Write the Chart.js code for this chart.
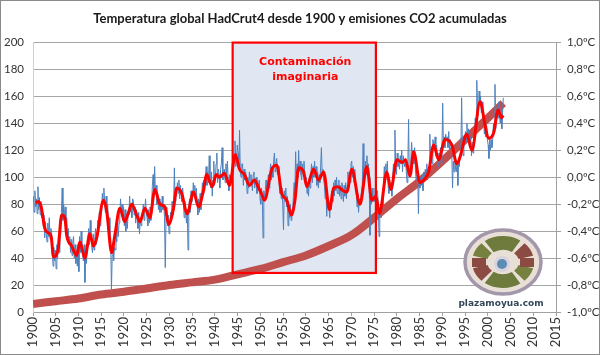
<!DOCTYPE html>
<html><head><meta charset="utf-8">
<script src="https://cdn.jsdelivr.net/npm/chart.js@4.4.0/dist/chart.umd.min.js"></script>
<style>html,body{margin:0;padding:0;background:#fff;}#wrap{width:600px;height:355px;}</style>
</head><body><div id="wrap"><canvas id="c" width="600" height="355"></canvas></div>
<script>
const chartTitle = 'Temperatura global HadCrut4 desde 1900 y emisiones CO2 acumuladas';
const xTickYears = [1900,1905,1910,1915,1920,1925,1930,1935,1940,1945,1950,1955,1960,1965,1970,1975,1980,1985,1990,1995,2000,2005,2010,2015];
const leftTicks = [0,20,40,60,80,100,120,140,160,180,200];
const rightTickValues = [-1,-0.8,-0.6,-0.4,-0.2,0,0.2,0.4,0.6,0.8,1];
const rightTickLabels = ['-1,0ºC','-0,8ºC','-0,6ºC','-0,4ºC','-0,2ºC','0,0ºC','0,2ºC','0,4ºC','0,6ºC','0,8ºC','1,0ºC'];
const boxLabel = ['Contaminación','imaginaria'];
const boxYears = [1943.9, 1975.4];
const boxLeftValues = [29, 200];
const logoText = 'plazamoyua.com';

// Suavizado (rojo), anomalía ºC
const smoothYears = [
1900.6,1901.2,1901.8,1902.6,1903.3,1904.0,1904.5,1905.5,1906.3,1907.0,
1907.4,1908.5,1909.6,1910.3,1911.4,1912.5,1913.3,1914.0,1915.5,1916.2,
1917.3,1918.0,1919.1,1920.2,1921.0,1921.7,1922.8,1923.5,1924.6,1925.7,
1926.8,1927.9,1929.0,1929.8,1930.9,1931.6,1932.7,1933.9,1935.3,1936.4,
1937.4,1938.2,1939.4,1940.3,1941.0,1942.1,1943.2,1944.5,1945.4,1946.5,
1947.6,1948.7,1949.5,1950.2,1950.9,1952.5,1953.6,1954.7,1955.8,1956.8,
1957.6,1958.4,1959.5,1960.2,1961.7,1962.8,1963.9,1965.2,1966.1,1967.0,
1968.2,1969.0,1970.1,1971.9,1973.4,1974.5,1975.4,1976.2,1977.8,1978.7,
1980.0,1981.2,1981.9,1982.9,1983.7,1985.1,1985.9,1987.0,1988.1,1989.2,
1990.6,1992.1,1993.2,1993.9,1995.4,1996.5,1998.3,1999.4,2000.1,2001.2,
2002.3,2003.0,2003.4];
const smoothTemp = [
-0.19,-0.18,-0.22,-0.38,-0.41,-0.44,-0.59,-0.54,-0.28,-0.30,
-0.43,-0.51,-0.58,-0.48,-0.60,-0.42,-0.51,-0.45,-0.17,-0.25,
-0.56,-0.43,-0.23,-0.33,-0.26,-0.20,-0.28,-0.33,-0.23,-0.30,
-0.09,-0.20,-0.22,-0.35,-0.23,-0.08,-0.12,-0.27,-0.11,-0.22,
-0.11,0.02,-0.07,0.02,0.00,0.03,-0.06,0.17,0.06,0.02,
-0.06,-0.02,-0.07,-0.12,-0.17,0.06,0.09,-0.12,-0.17,-0.28,
-0.17,0.07,0.04,-0.07,0.06,-0.02,0.04,-0.24,-0.08,-0.07,
-0.10,-0.11,0.06,-0.20,0.08,-0.17,-0.14,-0.27,0.04,-0.09,
0.13,0.11,0.13,0.01,0.19,-0.04,-0.02,0.04,0.24,0.13,
0.28,0.24,0.10,0.15,0.32,0.20,0.56,0.39,0.29,0.32,
0.50,0.44,0.46];

// HadCrut4 (azul), seis valores por año desde 1900, anomalía ºC
const hadStartYear = 1900;
const hadPerYear = 6;
const hadTemp = [
-0.14,-0.26,-0.10,-0.22,-0.16,-0.27, -0.07,-0.24,-0.15,-0.28,-0.18,-0.30,
-0.24,-0.36,-0.28,-0.45,-0.33,-0.42, -0.48,-0.34,-0.44,-0.30,-0.46,-0.38,
-0.40,-0.56,-0.66,-0.52,-0.62,-0.54, -0.68,-0.50,-0.60,-0.44,-0.56,-0.40,
-0.42,-0.26,-0.08,-0.32,-0.20,-0.30, -0.22,-0.36,-0.30,-0.44,-0.38,-0.50,
-0.44,-0.56,-0.46,-0.58,-0.48,-0.44, -0.60,-0.50,-0.64,-0.54,-0.66,-0.50,
-0.70,-0.44,-0.56,-0.40,-0.52,-0.58, -0.62,-0.50,-0.78,-0.54,-0.64,-0.52,
-0.46,-0.38,-0.50,-0.32,-0.44,-0.52, -0.56,-0.42,-0.54,-0.46,-0.38,-0.50,
-0.44,-0.32,-0.40,-0.26,-0.36,-0.28, -0.24,-0.12,-0.20,-0.08,-0.18,-0.26,
-0.14,-0.28,-0.20,-0.36,-0.30,-0.42, -0.46,-0.84,-0.58,-0.48,-0.62,-0.52,
-0.54,-0.40,-0.48,-0.36,-0.44,-0.34, -0.30,-0.16,-0.26,-0.20,-0.32,-0.22,
-0.36,-0.24,-0.40,-0.30,-0.38,-0.26, -0.28,-0.14,-0.26,-0.20,-0.30,-0.16,
-0.18,-0.28,-0.22,-0.34,-0.24,-0.30, -0.38,-0.26,-0.42,-0.30,-0.36,-0.28,
-0.28,-0.20,-0.32,-0.24,-0.16,-0.26, -0.30,-0.36,-0.24,-0.34,-0.22,-0.32,
-0.20,-0.06,0.02,-0.10,0.08,-0.12, -0.06,-0.20,-0.12,-0.24,-0.16,-0.26,
-0.18,-0.26,-0.14,-0.24,-0.20,-0.30, -0.67,-0.30,-0.22,-0.36,-0.28,-0.42,
-0.36,-0.26,-0.32,-0.18,-0.28,-0.22, 0.07,-0.18,-0.08,-0.14,-0.04,-0.12,
-0.02,-0.16,-0.06,-0.12,-0.18,-0.08, -0.20,-0.30,-0.18,-0.26,-0.34,-0.24,
-0.54,-0.22,-0.16,-0.26,-0.10,-0.18, -0.16,-0.04,-0.14,-0.06,-0.18,-0.08,
-0.20,-0.28,-0.16,-0.26,-0.12,-0.24, -0.14,-0.04,-0.12,-0.02,-0.10,0.00,
0.08,-0.06,0.04,-0.04,0.16,0.00, -0.08,0.04,-0.14,-0.02,0.12,-0.06,
-0.02,0.10,0.18,-0.04,0.06,0.02, -0.08,0.06,0.10,0.22,-0.02,0.04,
0.06,-0.04,0.10,0.00,0.12,-0.02, -0.10,0.02,-0.06,0.00,-0.04,0.08,
0.04,0.14,0.27,0.08,0.12,0.24, 0.18,0.08,0.35,0.04,0.00,0.10,
0.10,-0.06,0.06,-0.02,0.04,0.00, -0.12,0.00,-0.08,0.04,-0.06,0.02,
-0.04,-0.10,0.02,0.04,-0.08,-0.02, 0.00,-0.12,-0.04,-0.10,-0.02,-0.16,
-0.20,-0.08,-0.14,-0.45,-0.10,-0.16, -0.10,-0.02,-0.14,-0.06,0.02,-0.08,
0.02,0.10,-0.02,0.08,0.00,0.12, 0.18,0.04,0.10,0.14,0.02,0.08,
-0.02,-0.12,-0.04,-0.16,-0.08,-0.20, -0.39,-0.10,-0.18,-0.08,-0.22,-0.14,
-0.36,-0.22,-0.30,-0.20,-0.32,-0.24, -0.28,-0.14,-0.04,-0.12,0.19,-0.06,
0.10,0.00,0.20,0.04,0.12,0.02, -0.02,0.10,0.02,0.12,0.00,-0.04,
0.00,-0.12,-0.04,-0.14,-0.02,-0.08, 0.02,0.10,-0.04,0.08,0.00,0.12,
0.00,0.08,-0.06,0.04,-0.08,0.02, -0.04,0.08,0.22,0.02,0.06,-0.02,
-0.06,-0.16,-0.08,-0.29,-0.18,-0.24, -0.22,-0.30,-0.16,-0.24,-0.10,-0.18,
-0.04,-0.14,-0.02,-0.10,0.00,-0.12, -0.12,-0.02,-0.14,-0.06,-0.16,-0.04,
-0.08,-0.18,-0.06,-0.14,-0.04,-0.16, -0.06,0.04,-0.08,0.02,-0.04,0.10,
0.12,0.00,0.08,-0.04,0.06,-0.02, -0.10,-0.22,-0.12,-0.26,-0.16,-0.20,
-0.20,-0.10,-0.06,0.25,-0.02,0.00, 0.12,0.02,0.16,0.04,0.10,0.00,
-0.43,-0.12,-0.20,-0.08,-0.18,-0.14, -0.18,-0.08,-0.22,-0.12,-0.10,-0.20,
-0.44,-0.26,-0.20,-0.30,-0.18,-0.24, -0.04,0.08,-0.02,0.10,0.00,0.12,
-0.06,-0.12,-0.02,-0.10,-0.04,-0.14, 0.00,0.10,0.04,0.35,0.08,0.02,
0.18,0.08,0.14,0.06,0.16,0.10, 0.20,0.04,0.16,0.10,0.08,0.14,
0.04,-0.04,0.08,0.43,0.00,0.06, 0.12,0.26,0.16,0.20,0.10,0.22,
0.06,-0.02,0.10,0.04,-0.27,0.00, -0.08,0.00,-0.06,0.02,-0.10,0.04,
-0.02,0.06,0.02,0.10,-0.02,0.08, 0.08,0.32,0.14,0.18,0.10,0.28,
0.26,0.20,0.30,0.16,0.24,0.14, 0.08,0.18,0.12,0.22,0.10,0.20,
0.55,0.24,0.30,0.22,0.32,0.28, 0.30,0.22,0.34,0.20,0.28,0.22,
0.18,-0.08,0.12,0.04,0.16,0.06, 0.04,0.12,-0.06,0.14,0.08,0.18,
0.20,0.59,0.22,0.16,0.30,0.24, 0.34,0.26,0.40,0.28,0.36,0.24,
0.22,0.30,0.16,0.26,0.18,0.28, 0.32,0.44,0.36,0.72,0.50,0.46,
0.64,0.54,0.60,0.48,0.56,0.44, 0.42,0.32,0.40,0.30,0.38,0.28,
0.24,0.14,0.30,0.20,0.28,0.22, 0.28,0.40,0.34,0.69,0.36,0.42,
0.52,0.44,0.56,0.46,0.40,0.50, 0.36,0.48,0.59];

// Emisiones CO2 acumuladas (eje izquierdo)
const co2Years = [1900,1905,1910,1915,1920,1925,1930,1935,1940,1945,1950,1955,1960,1965,1970,1975,1980,1985,1990,1995,2000,2003.4];
const co2Values = [6,8,10,13,15,17.5,20,22,24,28,32,37,42,49,57,70,84,97,112,128,144,155];

const boxPlugin = {
  id: 'box',
  beforeDatasetsDraw(chart) {
    const {ctx, scales} = chart;
    const x0 = scales.x.getPixelForValue(boxYears[0]), x1 = scales.x.getPixelForValue(boxYears[1]);
    const y0 = scales.y.getPixelForValue(boxLeftValues[1]), y1 = scales.y.getPixelForValue(boxLeftValues[0]);
    ctx.save();
    ctx.fillStyle = '#e0e7f2';
    ctx.fillRect(x0, y0, x1 - x0, y1 - y0);
    ctx.restore();
  },
  afterDatasetsDraw(chart) {
    const {ctx, scales} = chart;
    const x0 = scales.x.getPixelForValue(boxYears[0]), x1 = scales.x.getPixelForValue(boxYears[1]);
    const y0 = scales.y.getPixelForValue(boxLeftValues[1]), y1 = scales.y.getPixelForValue(boxLeftValues[0]);
    ctx.save();
    ctx.strokeStyle = '#ff0000';
    ctx.lineWidth = 2.2;
    ctx.strokeRect(x0, y0, x1 - x0, y1 - y0);
    ctx.fillStyle = '#ff0000';
    ctx.font = 'bold 11px "DejaVu Sans"';
    ctx.textAlign = 'center';
    ctx.textBaseline = 'middle';
    const cx = (x0 + x1) / 2 + 1;
    ctx.fillText(boxLabel[0], cx, y0 + 20);
    ctx.fillText(boxLabel[1], cx, y0 + 35);
    ctx.restore();
  }
};

const logoPlugin = {
  id: 'logo',
  afterDatasetsDraw(chart) {
    const c = chart.ctx;
    const cx = 503, cy = 262;
    const d = Math.PI / 180;
    c.save();
    c.beginPath(); c.ellipse(cx, cy, 38, 32, 0, 0, Math.PI * 2);
    c.fillStyle = '#e8dfd6'; c.fill();
    c.lineWidth = 3.5; c.strokeStyle = '#a397ab'; c.stroke();
    function sector(a0, a1, col) {
      c.beginPath();
      c.ellipse(cx, cy, 31, 26, 0, a0 * d, a1 * d);
      c.ellipse(cx, cy, 16, 12, 0, a1 * d, a0 * d, true);
      c.closePath(); c.fillStyle = col; c.fill();
    }
    sector(-126, -56, '#6e7b3d');
    sector(56, 126, '#6e7b3d');
    sector(-166, -134, '#77813f');
    sector(14, 46, '#77813f');
    sector(-46, -14, '#8b4b43');
    sector(134, 166, '#8b4b43');
    c.fillStyle = '#8b4b43';
    c.fillRect(cx - 31, cy - 4, 14, 9);
    c.fillRect(cx + 17, cy - 4, 14, 9);
    c.beginPath(); c.arc(cx - 1, cy + 2, 8, 0, 2 * Math.PI); c.fillStyle = '#d9d3dd'; c.fill();
    c.beginPath(); c.arc(cx - 1, cy + 2, 5, 0, 2 * Math.PI); c.fillStyle = '#5a8cb4'; c.fill();
    c.fillStyle = '#34475a';
    c.font = 'bold 9px "DejaVu Sans"';
    c.textAlign = 'center'; c.textBaseline = 'middle';
    c.fillText(logoText, 501, 304);
    c.restore();
  }
};

const framePlugin = {
  id: 'frame',
  afterDraw(chart) {
    const c = chart.ctx;
    c.save();
    c.strokeStyle = '#8a8a8a'; c.lineWidth = 1;
    c.strokeRect(0.5, 0.5, chart.width - 1, chart.height - 1);
    c.restore();
  }
};

new Chart(document.getElementById('c'), {
  type: 'line',
  data: {
    datasets: [
      { label: 'Media móvil HadCrut4', data: smoothYears.map((x, i) => ({x, y: smoothTemp[i]})), yAxisID: 'y2',
        borderColor: '#ff0000', borderWidth: 3, pointRadius: 0, cubicInterpolationMode: 'monotone', order: 1 },
      { label: 'HadCrut4', data: hadTemp.map((y, i) => ({x: hadStartYear + (i + 0.5) / hadPerYear, y})), yAxisID: 'y2',
        borderColor: '#4f81bd', borderWidth: 1, pointRadius: 0, tension: 0, order: 2 },
      { label: 'Emisiones CO2 acumuladas', data: co2Years.map((x, i) => ({x, y: co2Values[i]})), yAxisID: 'y',
        borderColor: '#c0504d', borderWidth: 8, pointRadius: 0, cubicInterpolationMode: 'monotone', order: 3 }
    ]
  },
  options: {
    responsive: false,
    animation: false,
    layout: { padding: 0 },
    plugins: {
      legend: { display: false },
      tooltip: { enabled: false },
      title: { display: true, text: chartTitle, color: '#1a1a1a',
        font: { family: 'Lato', size: 13, weight: 'bold' }, padding: { top: 11, bottom: 16 } }
    },
    scales: {
      x: {
        type: 'linear', position: 'bottom', min: 1900, max: 2015,
        afterBuildTicks: s => { s.ticks = xTickYears.map(v => ({value: v})); },
        afterFit: s => { s.height = 43; },
        ticks: { autoSkip: false, minRotation: 90, maxRotation: 90, padding: 1, color: '#333',
          font: { family: 'Lato', size: 13 }, callback: v => String(v) },
        grid: { drawOnChartArea: false, drawTicks: true, tickLength: 4, color: '#a0a0a0' },
        border: { color: '#a0a0a0' }
      },
      y: {
        position: 'left', min: 0, max: 200,
        afterBuildTicks: s => { s.ticks = leftTicks.map(v => ({value: v})); },
        afterFit: s => { s.width = 33; },
        ticks: { padding: 9, color: '#333', font: { family: 'Lato', size: 11.5 } },
        grid: { color: '#a6a6a6', drawTicks: false },
        border: { color: '#d0d0d0' }
      },
      y2: {
        position: 'right', min: -1, max: 1,
        afterBuildTicks: s => { s.ticks = rightTickValues.map(v => ({value: v})); },
        afterFit: s => { s.width = 44; },
        ticks: { padding: 6, color: '#333', font: { family: 'Lato', size: 11.5 },
          callback: (v, i) => rightTickLabels[i] },
        grid: { drawOnChartArea: false, tickLength: 5, color: '#a0a0a0' },
        border: { color: '#a0a0a0' }
      }
    }
  },
  plugins: [boxPlugin, logoPlugin, framePlugin]
});
</script>
</body></html>
